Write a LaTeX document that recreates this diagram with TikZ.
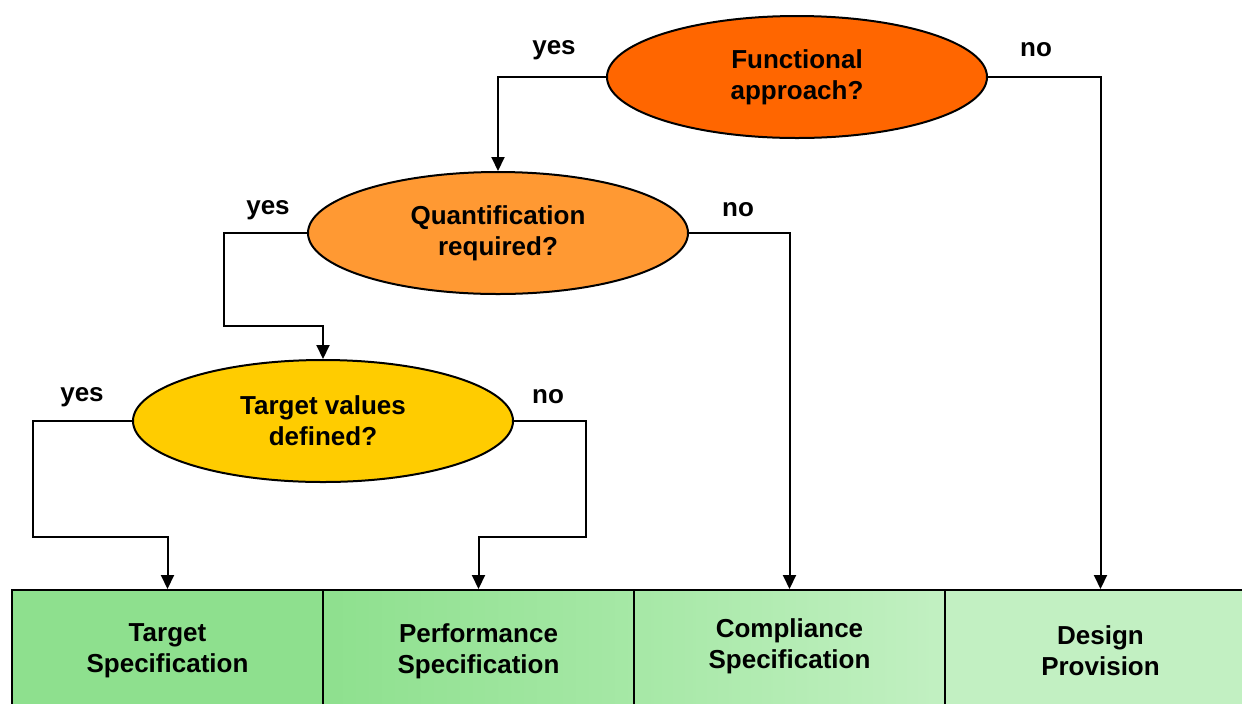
\documentclass[tikz,border=0pt]{standalone}
\usepackage{fontspec}
\setmainfont{Liberation Sans}
\usetikzlibrary{positioning,shapes.geometric,arrows.meta}
\definecolor{askdark}{RGB}{255,102,0}
\definecolor{askmid}{RGB}{255,153,51}
\definecolor{asklight}{RGB}{255,204,0}
\definecolor{specA}{RGB}{142,224,142}
\definecolor{specB}{RGB}{166,232,166}
\definecolor{specC}{RGB}{194,240,194}
\tikzset{
  question/.style={ellipse, draw, line width=1pt, minimum width=190pt,
    minimum height=61pt, inner sep=0pt, align=center,
    font=\bfseries\fontsize{13}{15.5}\selectfont},
  outcome/.style={rectangle, draw, line width=1pt, minimum width=155.5pt,
    minimum height=61pt, inner sep=0pt, align=center,
    font=\bfseries\fontsize{13}{15.5}\selectfont},
  answer/.style={inner sep=0pt, font=\bfseries\fontsize{13}{15.5}\selectfont},
  flow/.style={line width=1pt, -{Triangle[length=7pt,width=6.5pt]}},
}

\begin{document}
\begin{tikzpicture}[x=0.5pt,y=-0.5pt]
  \clip (0,0) rectangle (1242,703);

  % questions
  \node[question, fill=askdark] (fa) at (797,77) {Functional\\approach?};
  \node[question, fill=askmid] (qr) at (498,233) {Quantification\\required?};
  \node[question, fill=asklight] (tv) at (323,421) {Target values\\defined?};

  % outcomes
  \node[outcome, left color=specA, right color=specA] (ts) at (167.5,651) {Target\\Specification};
  \node[outcome, left color=specA, right color=specB] (ps) at (478.5,651) {Performance\\Specification};
  \node[outcome, left color=specB, right color=specC, text depth=7.5pt] (cs) at (789.5,651) {Compliance\\Specification};
  \node[outcome, left color=specC, right color=specC] (dp) at (1100.5,651) {Design\\Provision};

  % bends
  \coordinate (qbend) at (224,326);
  \coordinate (tyes) at (33,537);
  \coordinate (tno) at (586,537);

  % answers
  \node[answer] (fyes) at (554,50) {yes};
  \node[answer] (fno) at (1036,50) {no};
  \node[answer] (qyes) at (268,210) {yes};
  \node[answer] (qno) at (738,210) {no};
  \node[answer] (tyeslbl) at (82,397) {yes};
  \node[answer] (tnolbl) at (548,397) {no};

  \draw[flow] (fa.west) -| (qr.north);
  \draw[flow] (fa.east) -| (dp.north);
  \draw[flow] (qr.west) -| (qbend) -| (tv.north);
  \draw[flow] (qr.east) -| (cs.north);
  \draw[flow] (tv.west) -| (tyes) -| (ts.north);
  \draw[flow] (tv.east) -| (tno) -| (ps.north);
\end{tikzpicture}
\end{document}
